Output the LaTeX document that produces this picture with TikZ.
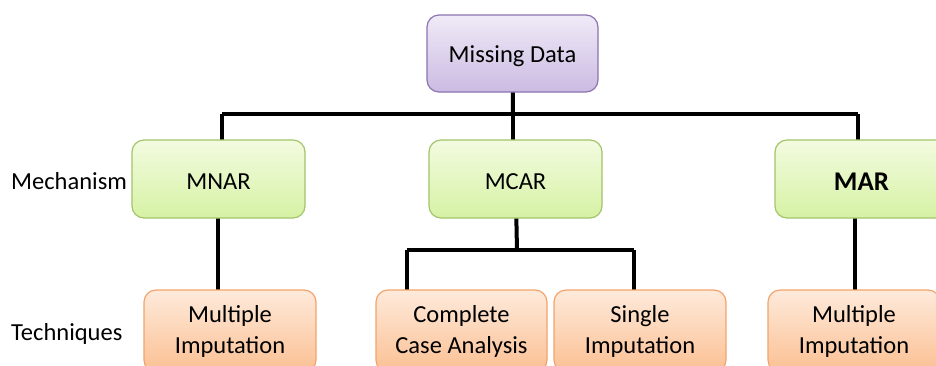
\documentclass[tikz,border=0pt]{standalone}
\usepackage{fontspec}
\setmainfont{Carlito}
\definecolor{mdborder}{HTML}{8C74B0}
\definecolor{mdtop}{HTML}{F0EAF7}
\definecolor{mdbot}{HTML}{CBBBE2}
\definecolor{grborder}{HTML}{A3C46A}
\definecolor{grtop}{HTML}{F3FBE0}
\definecolor{grbot}{HTML}{D6F2A4}
\definecolor{orborder}{HTML}{F2A46C}
\definecolor{ortop}{HTML}{FEEADB}
\definecolor{orbot}{HTML}{FBC093}
\newcommand{\lowertext}[1]{\raisebox{-2.5pt}[\height][\depth]{#1}}
\tikzset{
  box/.style={rounded corners=12pt, line width=1.2pt, align=center,
    font=\fontsize{24.5}{31}\selectfont, inner sep=0pt},
  rootbox/.style={box, draw=mdborder, top color=mdtop, bottom color=mdbot,
    minimum width=171pt, minimum height=77pt},
  mechbox/.style={box, draw=grborder, top color=grtop, bottom color=grbot,
    minimum width=173pt, minimum height=78pt},
  techbox/.style={box, draw=orborder, top color=ortop, bottom color=orbot,
    minimum width=172pt, minimum height=82pt},
  link/.style={line width=4pt, black},
  rowlabel/.style={anchor=west, font=\fontsize{24.5}{28}\selectfont, inner sep=0pt}
}
\begin{document}
\begin{tikzpicture}[x=1pt, y=-1pt]
\clip (0,0) rectangle (936,365);
\fill[white] (0,0) rectangle (936,365);
\path[use as bounding box] (0,0) rectangle (936,365);

% box centres
\coordinate (mdpos) at (512.5,53.5);
\coordinate (mnarpos) at (218.5,179);
\coordinate (mcarpos) at (515.5,179);
\coordinate (marpos) at (861.5,179);

% connectors
\coordinate (rootbar) at (513,114);
\coordinate (mcarbar) at (517,250);
\draw[link] (mdpos) -- (rootbar);
\draw[link] (222,114) -- (858,114);
\draw[link] (222,114) -- (222,150);
\draw[link] (rootbar) -- (513,150);
\draw[link] (858,114) -- (858,150);
\draw[link] (218,200) -- (218,300);
\draw[link] (mcarpos) -- (mcarbar);
\draw[link] (407,250) -- (634,250);
\draw[link] (407,250) -- (407,300);
\draw[link] (634,250) -- (634,300);
\draw[link] (855,200) -- (855,300);

% boxes
\node[rootbox] (md) at (mdpos) {\lowertext{Missing Data}};
\node[mechbox] (mnar) at (mnarpos) {\lowertext{MNAR}};
\node[mechbox] (mcar) at (mcarpos) {\lowertext{MCAR}};
\node[mechbox, font=\fontsize{27}{31}\selectfont\bfseries] (mar) at (marpos) {\lowertext{MAR}};

\node[techbox] (mnarT) at (230,331) {Multiple\\Imputation};
\node[techbox, minimum width=171pt] (cca) at (461.5,331) {Complete\\Case Analysis};
\node[techbox] (single) at (640,331) {Single\\Imputation};
\node[techbox] (marT) at (854,331) {Multiple\\Imputation};

% row labels
\node[rowlabel] (mechlabel) at (11,181) {Mechanism};
\node[rowlabel] (techlabel) at (11,334) {Techniques};
\end{tikzpicture}
\end{document}
